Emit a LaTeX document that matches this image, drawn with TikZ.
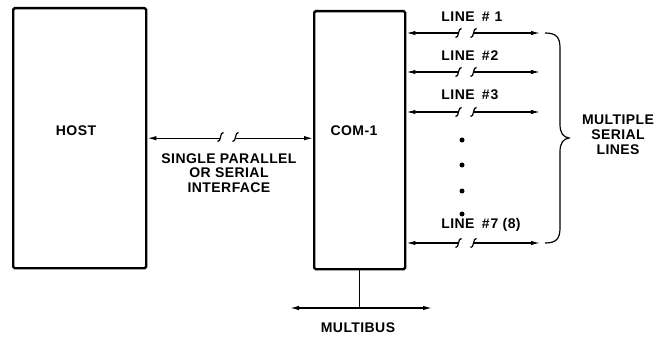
\documentclass[tikz,border=0pt]{standalone}
\usepackage{fontspec}
\setmainfont{Liberation Sans}[LetterSpace=3]
\usetikzlibrary{arrows.meta}
\tikzset{
  box/.style={draw, line width=2.4pt, rounded corners=1.5pt, inner sep=0pt},
  conn/.style={line width=1.3pt, {Latex[length=9pt,width=4.5pt]}-{Latex[length=9pt,width=4.5pt]}},
  wire/.style={line width=1.3pt},
  lbl/.style={font=\fontsize{14}{14.5}\selectfont\bfseries, align=center, inner sep=0pt},
  brk/.pic={
    \fill[white] (-7.5,-1.6) rectangle (7.5,1.6);
    \draw[line width=1.2pt] (-10.5,4.5) .. controls (-8.5,5.3) and (-8.2,2.2) .. (-7.5,0) .. controls (-6.8,-2.2) and (-6.5,-5.3) .. (-4.5,-4.5);
    \draw[line width=1.2pt] (4.5,4.5) .. controls (6.5,5.3) and (6.8,2.2) .. (7.5,0) .. controls (8.2,-2.2) and (8.5,-5.3) .. (10.5,-4.5);
  }
}
\begin{document}
\begin{tikzpicture}[x=1pt,y=-1pt]
\useasboundingbox (0,0) rectangle (666,337);
% boxes
\node[box, minimum width=133pt, minimum height=260pt, anchor=north west] (host) at (12,7) {};
\node[box, minimum width=91pt, minimum height=258pt, anchor=north west] (com) at (313,10) {};
\node[lbl] (hostlbl) at (76,131) {HOST};
\node[lbl] (comlbl) at (354,131) {COM-1};
% host interface
\draw[conn] (host.east) -- (host.east -| com.west);
\pic at (228,137) {brk};
\node[lbl] (iface) at (229,173) {SINGLE PARALLEL\\OR SERIAL\\INTERFACE};
% serial lines
\coordinate (l1) at (540,33);
\coordinate (l2) at (540,72);
\coordinate (l3) at (540,112);
\coordinate (l7) at (540,243);
\foreach \c in {l1,l2,l3,l7}{
  \draw[conn] (\c -| com.east) -- (\c);
  \pic at (\c -| 466,0) {brk};
}
\node[lbl] (t1) at (472,17) {LINE\hspace{3pt} \#\hspace{5pt}1};
\node[lbl] (t2) at (470,56) {LINE\hspace{3pt} \#\hspace{1pt}2};
\node[lbl] (t3) at (470,95) {LINE\hspace{3pt} \#\hspace{1pt}3};
\node[lbl] (t7) at (481,225) {LINE\hspace{3pt} \#\hspace{1pt}7 (8)};
\foreach \yy in {140,165,191,214}{\fill (462,\yy) circle (2.5pt);}
% brace
\draw[line width=1.2pt] (545,33) .. controls (556,33) and (560,37) .. (560,48) -- (560,124) .. controls (560,133) and (563,137) .. (569,138) .. controls (563,139) and (560,143) .. (560,152) -- (560,228) .. controls (560,239) and (556,243) .. (545,243);
\node[lbl, font=\fontsize{14}{15}\selectfont\bfseries] (msl) at (618,135) {MULTIPLE\\SERIAL\\LINES};
% multibus
\coordinate (mbl) at (290,308);
\coordinate (mbr) at (432,308);
\draw[conn] (mbl) -- (mbr);
\draw[wire] (com.south) -- (com.south |- mbl);
\node[lbl] (mb) at (358,328) {MULTIBUS};
\end{tikzpicture}
\end{document}
